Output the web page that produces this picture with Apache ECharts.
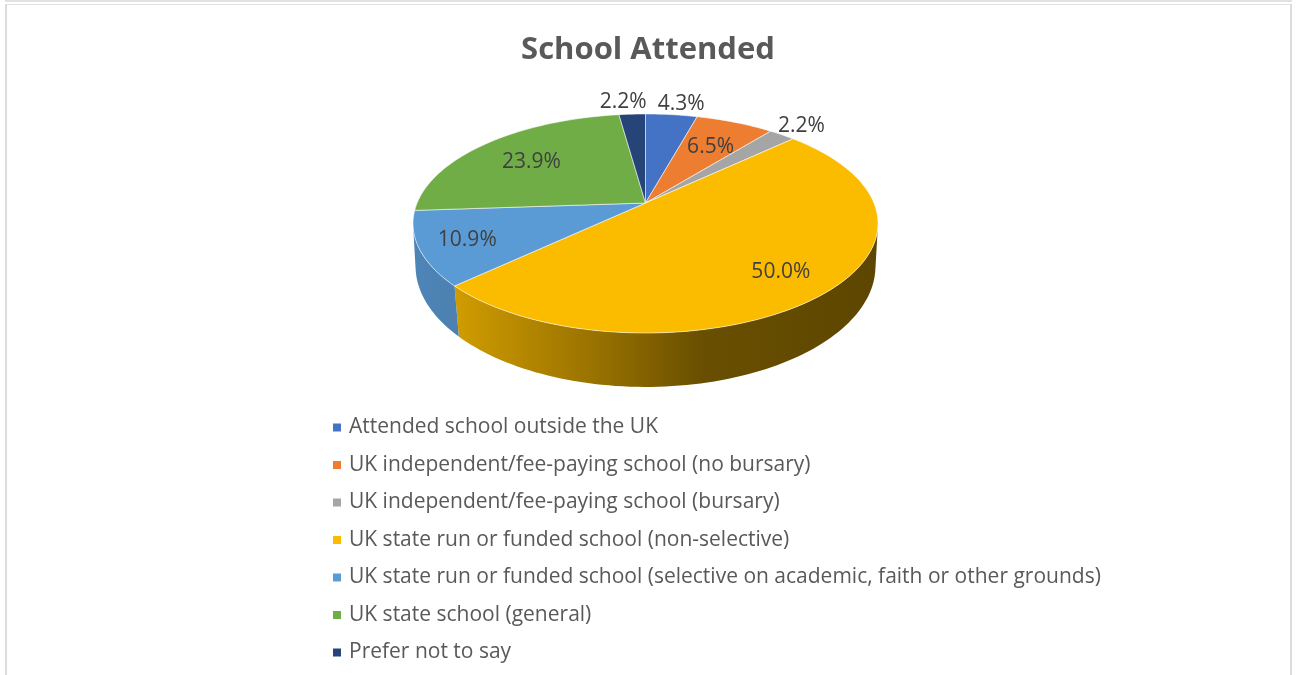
<!DOCTYPE html>
<html><head><meta charset="utf-8">
<style>html,body{margin:0;padding:0;background:#fff}#c{width:1298px;height:675px}</style>
<script src="https://cdn.jsdelivr.net/npm/echarts@6/dist/echarts.min.js"></script>
</head><body><div id="c"></div>
<script>
const categories = ['Attended school outside the UK','UK independent/fee-paying school (no bursary)','UK independent/fee-paying school (bursary)','UK state run or funded school (non-selective)','UK state run or funded school (selective on academic, faith or other grounds)','UK state school (general)','Prefer not to say'];
const percents = [4.3,6.5,2.2,50.0,10.9,23.9,2.2];
const colors = ['#4472C4','#ED7D31','#A5A5A5','#FBBC00','#5B9BD5','#70AD47','#264478'];
const labelRadius = [1.17,0.68,1.17,0.78,0.80,0.69,1.19];
const labelAngleShift = [1.6,0.6,-0.2,0.5,0.1,-0.5,-1.8];

const total = percents.reduce((a,b)=>a+b,0);
const cum = []; percents.reduce((a,b,i)=>{cum[i]=a;return a+b;},0);
// perspective disc: circle (u,v) -> screen via a homography
const TOP = {cx:645.5, cy:203, A:228.4, B:105.7, k:0.187};
const BOT = {cx:645.5, cy:245.7, A:226.7, B:117.5, k:0.168};
const WALL_FROM = 100.8, WALL_TO = 259.2; // only the front of the disc shows a side wall
function proj(p, deg, r){
  const t = deg*Math.PI/180, u = r*Math.sin(t), v = r*Math.cos(t), w = 1+p.k*v;
  return [p.cx+p.A*u/w, p.cy-p.B*v/w];
}
function arc(p, a0, a1){
  const n = Math.max(2, Math.ceil((a1-a0)/1.5)), out = [];
  for(let i=0;i<=n;i++) out.push(proj(p, a0+(a1-a0)*i/n, 1));
  return out;
}
function wallShade(hex){
  const c=[1,3,5].map(i=>parseInt(hex.substr(i,2),16));
  const f=s=>'rgb('+c.map(x=>Math.round(x*s)).join(',')+')';
  return {type:'linear',global:true,x:413,y:0,x2:878,y2:0,colorStops:[
    {offset:0,color:f(.86)},{offset:.09,color:f(.83)},{offset:.4,color:f(.6)},{offset:.62,color:f(.42)},{offset:1,color:f(.37)}]};
}
const series = categories.map((name,i)=>({
  type:'custom', name, coordinateSystem:'none', silent:true,
  itemStyle:{color:colors[i]},
  data:[[percents[i]]],
  renderItem(params, api){
    const a0 = cum[i]/total*360, a1 = a0 + api.value(0)/total*360, mid=(a0+a1)/2;
    const t = arc(TOP,a0,a1);
    const lp = proj(TOP, mid+labelAngleShift[i], labelRadius[i]);
    const children = [
      {type:'polygon',z2:10,shape:{points:[[TOP.cx,TOP.cy]].concat(t)},style:{fill:colors[i],stroke:'rgba(255,255,255,.55)',lineWidth:1,lineJoin:'round'}},
      {type:'text',z2:20,x:lp[0],y:lp[1]+1.5,style:{text:api.value(0).toFixed(1)+'%',fill:'#404040',font:'21px "Open Sans"',align:'center',verticalAlign:'middle'}}
    ];
    const w0 = Math.max(a0,WALL_FROM), w1 = Math.min(a1,WALL_TO);
    if (w1 > w0) {
      const wt = arc(TOP,w0,w1), wb = arc(BOT,w0,w1);
      children.unshift({type:'polygon',z2:1,shape:{points:wt.concat(wb.slice().reverse())},style:{fill:wallShade(colors[i])}});
    }
    return {type:'group',children};
  }
}));
const chart = echarts.init(document.getElementById('c'),null,{renderer:'canvas'});
chart.setOption({
  animation:false, backgroundColor:'#fff',
  title:{text:'School Attended',left:643,top:30,textAlign:'center',textStyle:{fontFamily:'Open Sans',fontSize:31,fontWeight:'bold',color:'#595959'}},
  legend:{data:categories,orient:'vertical',left:328,top:409,icon:'rect',itemWidth:8,itemHeight:8,itemGap:10.5,selectedMode:false,
    textStyle:{fontFamily:'Open Sans',fontSize:21,color:'#595959',padding:[0,0,0,3],lineHeight:27}},
  graphic:[
    {type:'rect',shape:{x:5,y:0,width:1287,height:2},style:{fill:'#e2e2e2'},silent:true},
    {type:'rect',shape:{x:5,y:4,width:1287,height:1},style:{fill:'#e2e2e2'},silent:true},
    {type:'rect',shape:{x:5,y:4,width:2,height:671},style:{fill:'#dcdcdc'},silent:true},
    {type:'rect',shape:{x:1290,y:4,width:2,height:671},style:{fill:'#dcdcdc'},silent:true}
  ],
  series
});
</script></body></html>
